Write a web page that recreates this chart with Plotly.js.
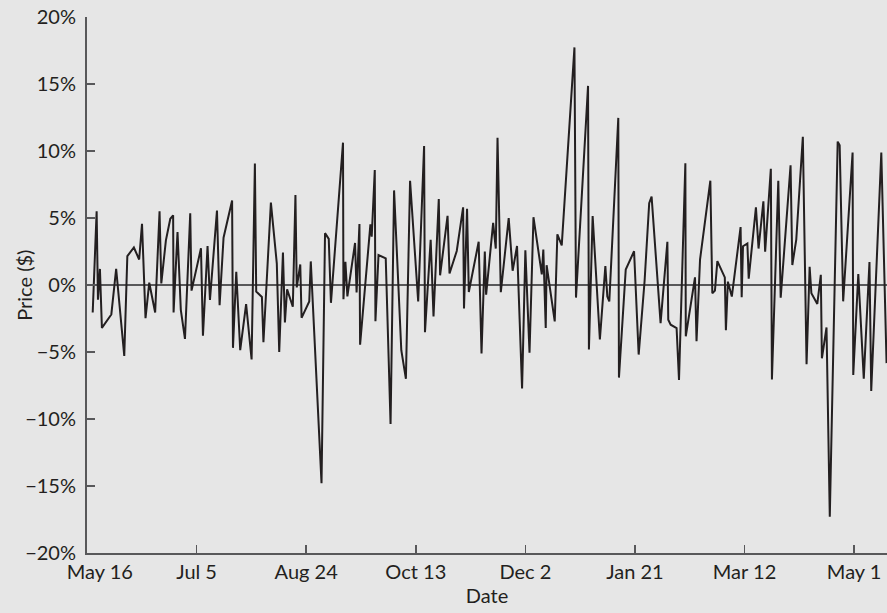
<!DOCTYPE html>
<html>
<head>
<meta charset="utf-8">
<script src="https://cdn.plot.ly/plotly-3.0.1.min.js"></script>
<style>
  html, body { margin: 0; padding: 0; background: #e6e6e6; }
  #chart { width: 887px; height: 613px; }
</style>
</head>
<body>
<div id="chart"></div>
<script>
// Start and end of the date axis
const startDate = '2006-05-16';
const endDate = '2007-05-16';

const dayOffsets = [
  2.6, 4.4, 5.0, 5.9, 6.8, 11.1, 13.3, 17.0, 18.4, 21.4,
  23.8, 25.1, 26.7, 28.4, 31.1, 33.1, 33.9, 36.0, 38.0, 39.3,
  39.5, 41.3, 42.8, 44.7, 47.1, 47.7, 52.0, 52.9, 55.0, 56.1,
  59.3, 60.5, 62.3, 66.2, 66.6, 68.1, 69.9, 72.6, 75.1, 76.6,
  77.2, 79.8, 80.5, 83.9, 86.6, 87.7, 89.4, 90.3, 91.3, 93.9,
  95.1, 95.7, 97.3, 97.9, 101.4, 102.1, 107.0, 108.6, 110.3, 111.3,
  116.8, 117.0, 117.9, 118.8, 122.3, 123.0, 124.3, 124.6, 129.3, 129.9,
  131.3, 131.6, 133.0, 136.3, 138.5, 140.1, 143.4, 145.5, 147.4, 151.1,
  153.8, 154.2, 156.8, 158.1, 160.5, 161.1, 164.5, 165.4, 168.7, 171.6,
  172.0, 173.4, 174.2, 178.7, 180.0, 181.5, 182.1, 185.3, 186.5, 187.3,
  188.8, 192.4, 194.2, 196.2, 198.5, 200.0, 201.9, 203.7, 207.5, 208.2,
  209.3, 209.7, 213.4, 214.6, 216.6, 222.4, 223.1, 228.6, 229.0, 230.7,
  234.0, 236.5, 237.4, 238.3, 242.4, 242.7, 245.8, 249.6, 251.7, 254.4,
  256.5, 257.6, 261.7, 264.8, 265.2, 266.3, 269.0, 270.1, 273.0, 273.2,
  277.4, 278.1, 279.7, 284.4, 285.3, 286.5, 287.6, 291.0, 291.5, 292.4,
  294.2, 298.2, 298.7, 299.3, 301.3, 301.9, 305.2, 306.4, 308.6, 309.4,
  312.0, 312.5, 315.4, 316.5, 321.0, 321.8, 323.6, 326.6, 328.3, 329.7,
  330.5, 333.2, 334.8, 335.3, 337.4, 338.9, 342.5, 343.4, 345.0, 349.3,
  349.6, 351.9, 354.4, 357.0, 357.8, 362.4, 364.8
];

// Daily change, percent
const changePct = [
  -2.05, 5.5, -1.1, 1.2, -3.2, -2.2, 1.2, -5.3, 2.15, 2.8,
  1.9, 4.57, -2.47, 0.17, -2.05, 5.5, 0.12, 3.33, 4.94, 5.2,
  -2.05, 3.95, -1.85, -4.02, 5.36, -0.42, 2.74, -3.78, 2.91, -1.11,
  5.56, -1.5, 3.53, 6.3, -4.69, 0.99, -4.86, -1.43, -5.56, 9.06,
  -0.49, -0.9, -4.27, 6.15, 1.6, -5.0, 2.42, -2.79, -0.33, -1.62,
  6.71, -0.18, 1.53, -2.45, -1.23, 1.76, -14.8, 3.87, 3.44, -1.33,
  10.62, -1.06, 1.73, -0.85, 3.14, -0.56, 4.55, -4.45, 4.52, 3.6,
  8.58, -2.7, 2.24, 1.98, -10.38, 7.06, -4.87, -7.0, 7.78, -1.23,
  10.37, -3.53, 3.38, -2.35, 6.42, 0.72, 5.16, 0.86, 2.54, 5.8,
  -1.75, 5.68, -0.52, 3.23, -5.11, 2.49, -0.72, 4.64, 2.72, 10.99,
  -0.54, 4.99, 1.06, 2.91, -7.73, 2.59, -5.06, 5.06, 0.79, 2.64,
  -3.21, 1.48, -2.72, 3.78, 2.96, 17.73, -0.94, 14.86, -4.81, 5.14,
  -4.07, 1.41, -0.86, -1.23, 12.47, -6.91, 1.16, 2.52, -5.19, 0.3,
  6.1, 6.59, -2.84, 3.23, -2.59, -2.96, -3.21, -7.09, 9.09, -3.83,
  0.57, -4.2, 1.9, 7.78, -0.62, -0.42, 1.78, 0.57, -3.38, 0.25,
  -0.86, 4.32, -0.91, 2.89, 3.09, 0.47, 5.8, 2.72, 6.25, 2.48,
  8.67, -7.05, 7.78, -0.95, 8.94, 1.49, 3.39, 11.06, -5.91, 1.36,
  -0.62, -1.41, 0.76, -5.47, -3.17, -17.29, 10.7, 10.43, -1.22, 9.89,
  -6.72, 0.81, -6.99, 1.71, -7.91, 9.89, -5.83
];

// X tick dates and labels
const xTickDates = ['2006-05-16', '2006-07-05', '2006-08-24', '2006-10-13',
                    '2006-12-02', '2007-01-21', '2007-03-12', '2007-05-01'];
const xTickLabels = ['\u00a0\u00a0\u00a0\u00a0\u00a0May 16', 'Jul 5', 'Aug 24', 'Oct 13',
                     'Dec 2', 'Jan 21', 'Mar 12', 'May 1'];
// Y tick values and labels
const yTickValues = [-20, -15, -10, -5, 0, 5, 10, 15, 20];
const yTickLabels = ['\u221220%', '\u221215%', '\u221210%', '\u22125%', '0%',
                     '5%', '10%', '15%', '20%'];

const startMs = Date.parse(startDate + 'T00:00:00Z');
const xDates = dayOffsets.map(d => startMs + d * 86400000);

const ink = '#231f20';
const axisGrey = '#58585a';
const fontFamily = 'Lato, "Open Sans", sans-serif';
const fontSize = 20;

const trace = {
  type: 'scatter',
  mode: 'lines',
  x: xDates,
  y: changePct,
  line: { color: ink, width: 2 },
  hoverinfo: 'skip'
};

const layout = {
  width: 887,
  height: 613,
  paper_bgcolor: '#e6e6e6',
  plot_bgcolor: '#e6e6e6',
  margin: { l: 87, r: 0, t: 17, b: 60, pad: 0 },
  showlegend: false,
  font: { family: fontFamily, size: fontSize, color: ink },
  xaxis: {
    type: 'date',
    range: [startDate, endDate],
    tickmode: 'array',
    tickvals: xTickDates,
    ticktext: xTickLabels,
    ticks: 'inside',
    ticklen: 8,
    tickwidth: 1.5,
    tickcolor: axisGrey,
    showline: true,
    linecolor: axisGrey,
    linewidth: 2,
    showgrid: false,
    zeroline: false,
    tickfont: { family: fontFamily, size: fontSize, color: ink },
    title: { text: 'Date', font: { family: fontFamily, size: fontSize, color: ink }, standoff: 2 },
    automargin: false
  },
  yaxis: {
    range: [-20, 20],
    tickmode: 'array',
    tickvals: yTickValues,
    ticktext: yTickLabels,
    ticks: 'inside',
    ticklen: 8,
    tickwidth: 1.5,
    tickcolor: axisGrey,
    showline: true,
    linecolor: axisGrey,
    linewidth: 2,
    showgrid: false,
    zeroline: true,
    zerolinecolor: axisGrey,
    zerolinewidth: 1.5,
    ticklabelstandoff: 5,
    tickfont: { family: fontFamily, size: fontSize, color: ink },
    title: { text: '' },
    automargin: false
  },
  annotations: [{
    text: 'Price ($)',
    xref: 'paper', yref: 'paper',
    x: -0.079, y: 0.5,
    xanchor: 'center', yanchor: 'middle',
    textangle: -90,
    showarrow: false,
    font: { family: fontFamily, size: fontSize, color: ink }
  }]
};

Plotly.newPlot('chart', [trace], layout, { displayModeBar: false, staticPlot: true });
</script>
</body>
</html>
